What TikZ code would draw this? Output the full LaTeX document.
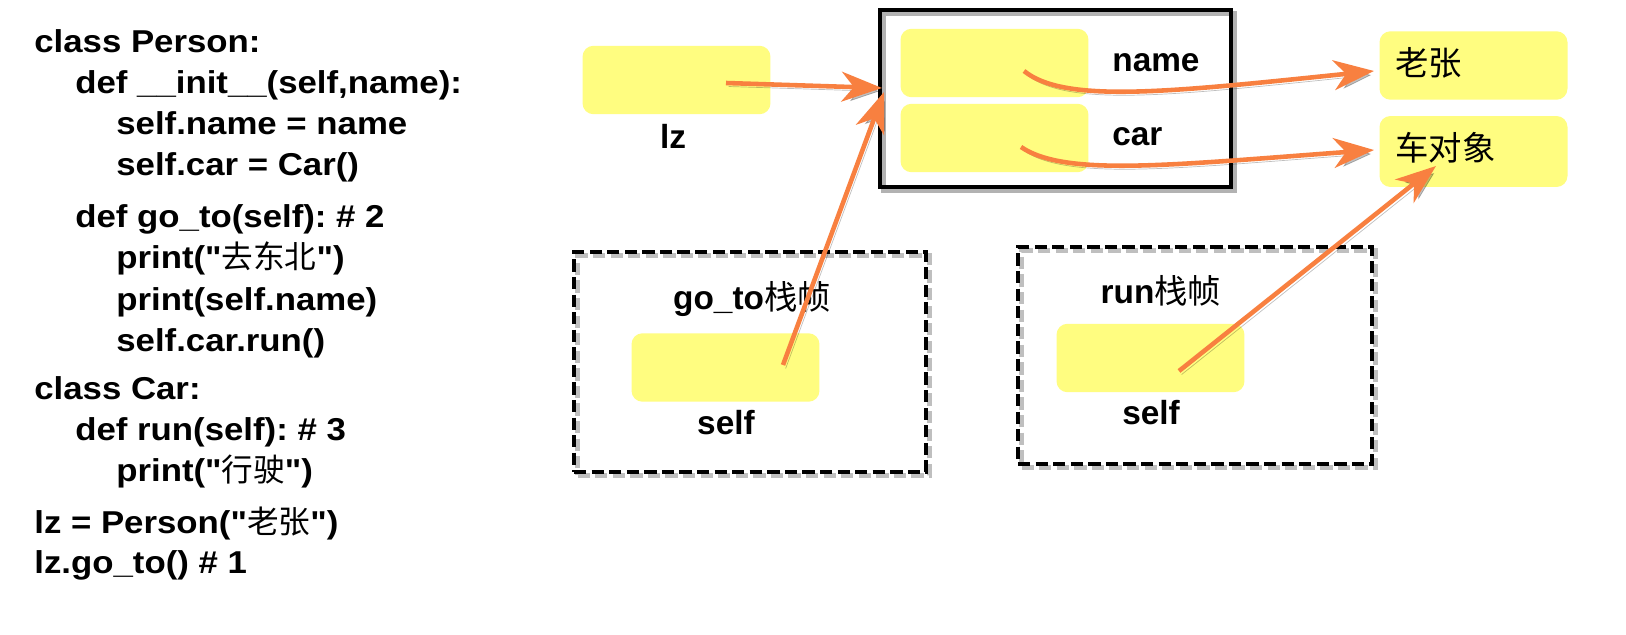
\documentclass[tikz,border=0pt]{standalone}
\usepackage{fontspec}
\setmainfont{Liberation Sans}
\newfontfamily\codefont{Liberation Sans}[FakeStretch=1.1]
\newfontfamily\cjk{Noto Sans CJK SC}
\newcommand\zhtext[1]{{\cjk\mdseries #1}}
\usetikzlibrary{arrows.meta}
\definecolor{slotyellow}{RGB}{255,253,128}
\definecolor{arrorange}{RGB}{248,128,64}
\frenchspacing
\begin{document}
\begin{tikzpicture}[x=0.02cm,y=-0.02cm,
  code/.style={anchor=base west, inner sep=0pt, font=\codefont\bfseries\fontsize{18}{20}\selectfont},
  lbl/.style={inner sep=0pt, font=\bfseries\fontsize{19}{22}\selectfont},
  zhlbl/.style={inner sep=0pt, anchor=west, font=\cjk\fontsize{19}{22}\selectfont},
  slot/.style={fill=slotyellow, rounded corners=0.22cm, inner sep=0pt, minimum width=3.76cm, minimum height=1.37cm},
  objframe/.style={draw=black, line width=2.4pt, inner sep=0pt,
     preaction={draw=black!30, line width=3pt, transform canvas={xshift=2pt,yshift=-2pt}}},
  stackframe/.style={draw=black, line width=2pt, dash pattern=on 7pt off 3pt, inner sep=0pt,
     preaction={draw=black!25, line width=2.6pt, dash pattern=on 7pt off 3pt, transform canvas={xshift=2pt,yshift=-2pt}}},
  ptr/.style={draw=arrorange, line width=2.6pt, -{Stealth[length=23pt,width=17pt,inset=7pt]},
     preaction={draw=black, opacity=0.25, transform canvas={xshift=1.5pt,yshift=-2pt}}}
]
\useasboundingbox[fill=white] (0,0) rectangle (1626,635);

% ---- code ----
\node[code] (c1)  at (34,53)  {class Person:};
\node[code] (c2)  at (75,93)  {def \_\_init\_\_(self,name):};
\node[code] (c3)  at (116,134) {self.name = name};
\node[code] (c4)  at (116,175) {self.car = Car()};
\node[code] (c5)  at (75,227) {def go\_to(self): \# 2};
\node[code] (c6)  at (116,268) {print("\zhtext{去东北}")};
\node[code] (c7)  at (116,310) {print(self.name)};
\node[code] (c8)  at (116,351) {self.car.run()};
\node[code] (c9)  at (34,399) {class Car:};
\node[code] (c10) at (75,440) {def run(self): \# 3};
\node[code] (c11) at (116,481) {print("\zhtext{行驶}")};
\node[code] (c12) at (34,533) {lz = Person("\zhtext{老张}")};
\node[code] (c13) at (34,573) {lz.go\_to() \# 1};

% ---- frames ----
\node[objframe, minimum width=7.02cm, minimum height=3.54cm] (objbox) at (1055.5,98.5) {};
\node[stackframe, minimum width=7.04cm, minimum height=4.4cm] (goframe) at (750,362) {};
\node[stackframe, minimum width=7.08cm, minimum height=4.34cm] (runframe) at (1195,355.5) {};

% ---- slots ----
\node[slot] (lzslot) at (676.5,80) {};
\node[slot] (nameslot) at (994.5,63) {};
\node[slot] (carslot) at (994.5,138) {};
\node[slot] (laozhang) at (1473.5,65.5) {};
\node[slot, minimum height=1.42cm] (carobj) at (1473.5,151.5) {};
\node[slot] (goself) at (725.5,367.5) {};
\node[slot] (runself) at (1150.5,358) {};

% ---- labels ----
\node[lbl] (lzlbl) at (673,136) {lz};
\node[lbl, anchor=west] (namelbl) at (1112,63) {name};
\node[lbl, anchor=west] (carlbl) at (1112,137) {car};
\node[zhlbl] (lztext) at (1395,63) {老张};
\node[zhlbl] (cartext) at (1395,148) {车对象};
\node[lbl] (golbl) at (752,299) {go\_to\zhtext{栈帧}};
\node[lbl] (goselflbl) at (726,423) {self};
\node[lbl] (runlbl) at (1161,291) {run\zhtext{栈帧}};
\node[lbl] (runselflbl) at (1151,413) {self};

% ---- pointer ends ----
\coordinate (lzsrc) at (726,83);
\coordinate (objin) at (882,88);
\coordinate (gosrc) at (783,365);
\coordinate (objin2) at (884,92);
\coordinate (namesrc) at (1024,71);
\coordinate (nametip) at (1374,71);
\coordinate (carsrc) at (1021,147);
\coordinate (cartip) at (1374,150);
\coordinate (runsrc) at (1179,371);
\coordinate (runtip) at (1436,166);

% ---- pointers ----
\draw[ptr] (lzsrc) -- (objin);
\draw[ptr] (gosrc) -- (objin2);
\draw[ptr] (namesrc) .. controls (1065,104) and (1170,92) .. (nametip);
\draw[ptr] (carsrc) .. controls (1065,177) and (1170,165) .. (cartip);
\draw[ptr] (runsrc) -- (runtip);
\end{tikzpicture}
\end{document}
